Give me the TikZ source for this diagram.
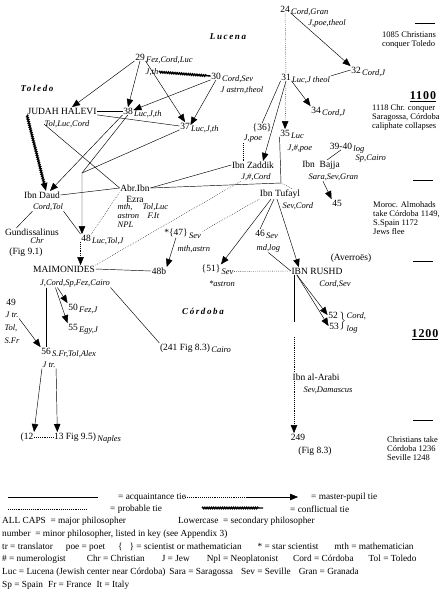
\documentclass[tikz,border=0pt]{standalone}
\usepackage{fontspec}
\setmainfont{Liberation Serif}
\newfontfamily\spacedfont[LetterSpace=18]{Liberation Serif}
\newfontfamily\yearfont[LetterSpace=8]{Liberation Serif}
\usetikzlibrary{arrows.meta,decorations.pathmorphing,positioning}

\tikzset{
  phil/.style={font=\fontsize{9.5}{10}\selectfont, inner sep=0.5pt},
  num/.style={font=\fontsize{9.5}{10}\selectfont, inner sep=0.5pt},
  info/.style={font=\fontsize{8.5}{9}\selectfont\itshape, inner sep=0.5pt},
  note/.style={font=\fontsize{8.5}{9}\selectfont, align=left, anchor=west, inner sep=0pt},
  keytext/.style={font=\fontsize{9.3}{10}\selectfont, anchor=west, inner sep=0pt},
  region/.style={font=\spacedfont\fontsize{9}{10}\selectfont\bfseries\itshape},
  year/.style={font=\yearfont\fontsize{12}{13}\selectfont\bfseries},
  tie/.style={line width=0.45pt},
  prob/.style={line width=0.45pt, dash pattern=on 0.6pt off 1.3pt},
  pupil/.style={line width=0.45pt, -{Triangle[length=8pt,width=6.5pt]}},
  probpupil/.style={pupil, dash pattern=on 0.6pt off 1.3pt},
  conflict/.style={line width=1.4pt, decorate,
    decoration={snake, amplitude=0.7pt, segment length=2.2pt, post length=4pt}},
}

\begin{document}
\begin{tikzpicture}[x=1pt,y=-1pt]
\useasboundingbox (0,0) rectangle (446,591);

%==================== regions ====================
\node[region] (lucena) at (228,37) {Lucena};
\node[region] (toledo) at (37,88) {Toledo};
\node[region] (cordoba) at (203,311) {Córdoba};

%==================== minor philosophers ====================
\foreach \n/\p/\t in {24/{285,9}/{Cord,Gran}, 29/{140,57}/{Fez,Cord,Luc},
  30/{216,76}/{Cord,Sev}, 31/{286,77}/{Luc,J theol}, 32/{356,70}/{Cord,J},
  34/{316,110}/{Cord,J}, 38/{128,111}/{Luc,J,th}, 37/{185,126}/{Luc,J,th},
  35/{285,133}/{Luc}, 39-40/{341,146}/{log}, 46/{260,233}/{Sev},
  48/{86,238}/{Luc,Tol,J}, 50/{73,307}/{Fez,J}, 55/{73,327}/{Egy,J},
  56/{46,351}/{S.Fr,Tol,Alex}}
{
  \node[num] (n\n) at (\p) {\n};
  \node[info, anchor=base west] (i\n) at ([yshift=-2.5pt]n\n.base east) {\t};
}

\node[info] (l24) at (327,23) {J,poe,theol};
\node[info] (l29) at (152,72) {J,th};
\node[info, anchor=west] (l30) at (220,90) {J astrn,theol};
\node[info, anchor=west] (l35) at (287,149) {J,\#,poe};
\node[info, anchor=west] (l39-40) at (355,159) {Sp,Cairo};
\node[info, anchor=west] (l46) at (256,248) {md,log};
\node[info] (l56) at (49,365) {J tr.};

\node[num] (n36) at (262,128) {\{36\}};
\node[info] (l36) at (253,139) {J,poe};
\node[num] (n47) at (176,233) {*\{47\}};
\node[info, anchor=base west] (i47) at ([yshift=-2.5pt]n47.base east) {Sev};
\node[info, anchor=west] (l47) at (177,249) {mth,astrn};
\node[num] (n51) at (211,269) {\{51\}};
\node[info, anchor=base west] (i51) at ([yshift=-2.5pt]n51.base east) {Sev};
\node[info] (l51) at (222,284) {*astron};
\node[num] (n48b) at (159,271) {48b};
\node[num] (n45) at (337,203) {45};

\node[num] (n49) at (11,302) {49};
\node[info] (l49a) at (12,315) {J tr.};
\node[info] (l49b) at (11,328) {Tol,};
\node[info] (l49c) at (12,341) {S.Fr};

\node[num] (n52) at (333,315) {52};
\node[num] (n53) at (334,326) {53};
\node (b5253) at (342,321) {$\left.\rule{0pt}{10pt}\right\}$};
\node[info, anchor=west] (i52) at (346,316) {Cord,};
\node[info, anchor=west] (i53) at (346,329) {log};

%==================== named philosophers ====================
\node[phil] (halevi) at (62,111) {JUDAH HALEVI};
\node[info] (lhalevi) at (67,124) {Tol,Luc,Cord};
\node[phil] (daud) at (42,195) {Ibn Daud};
\node[info] (ldaud) at (48,207) {Cord,Tol};
\node[phil] (gund) at (32,232) {Gundissalinus};
\node[info] (lgund) at (37,241) {Chr};
\node[phil] (fig91) at (26,252) {(Fig 9.1)};

\node[phil] (ezra) at (135,188) {Abr.Ibn};
\node[phil] (lezra) at (135,199) {Ezra};
\node[info, anchor=west] (e1) at (117,207) {mth,};
\node[info, anchor=west] (e2) at (142,207) {Tol,Luc};
\node[info, anchor=west] (e3) at (117,216) {astron};
\node[info, anchor=west] (e4) at (147,216) {F.It};
\node[info, anchor=west] (e5) at (117,225) {NPL};

\node[phil] (zaddik) at (253,165) {Ibn Zaddik};
\node[info] (lzaddik) at (256,177) {J,\#,Cord};
\node[phil] (bajja) at (321,165) {Ibn\ \ Bajja};
\node[info, anchor=west] (lbajja) at (308,177) {Sara,Sev,Gran};
\node[phil] (tufayl) at (280,194) {Ibn Tufayl};
\node[info, anchor=west] (ltufayl) at (282,206) {Sev,Cord};

\node[phil] (averroes) at (351,258) {(Averroës)};
\node[phil] (maim) at (64,269) {MAIMONIDES};
\node[info] (lmaim) at (75,283) {J,Cord,Sp,Fez,Cairo};
\node[phil] (rushd) at (317,271) {IBN RUSHD};
\node[info] (lrushd) at (335,284) {Cord,Sev};

\node[phil] (n241) at (185,348) {(241 Fig 8.3)};
\node[info, anchor=base west] (i241) at ([yshift=-2.5pt]n241.base east) {Cairo};
\node[phil, anchor=west] (arabi) at (292,377) {Ibn al-Arabi};
\node[info, anchor=west] (larabi) at (303,390) {Sev,Damascus};
\node[phil] (n12) at (27,437) {(12};
\node[phil] (n13) at (75,437) {13 Fig 9.5)};
\node[info, anchor=base west] (i13) at ([yshift=-2.5pt]n13.base east) {Naples};
\node[phil] (n249) at (298,437) {249};
\node[phil] (fig83) at (315,451) {(Fig 8.3)};

%==================== time line ====================
\foreach \y in {180,261,420}
  \draw[tie] (413,\y) -- (433,\y);
\draw[tie] (415,23) -- (435,23);
\node[note] (t1085) at (382,40) {1085 Christians\\conquer Toledo};
\node[year] (y1100) at (423,97) {\underline{1100}};
\node[note] (t1118) at (372,117) {1118 Chr. conquer\\Saragossa, Córdoba\\caliphate collapses};
\node[note] (t1149) at (373,218) {Moroc. Almohads\\take Córdoba 1149,\\S.Spain 1172\\Jews flee};
\node[year] (y1200) at (425,335) {\underline{1200}};
\node[note] (t1236) at (387,449) {Christians take\\Córdoba 1236\\Seville 1248};

%==================== acquaintance ties ====================
\draw[tie] (halevi) -- (n38);
\draw[tie] (halevi.south east) -- (n37.west);
\draw[tie] (lhalevi.west) -- (ezra.west);
\draw[tie] (daud.east) -- (ezra.west);
\draw[tie] (ezra.east) -- (zaddik.west);
\coordinate (bend35) at (281,183);
\draw[tie] (n35.south west) -- (bend35) -- (ezra.east);
\draw[tie] (ldaud.south west) -- ([xshift=12pt]gund.north west);
\draw[tie] (ldaud.south east) -- (n48.north west);
\draw[tie] (n31.south west) -- (n36.north);
\draw[tie] (i31.north east) -- (n32.west);
\draw[tie] (n39-40.south) -- ([xshift=6pt]bajja.north);
\draw[tie] ([xshift=-6pt]tufayl.south) -- (n46.north);
\draw[tie] (l46.south) -- (rushd.west);
\draw[tie] (maim.east) -- (n48b.west);
\draw[tie] (lmaim.south -| n56) -- (n56.north);
\draw[tie] (lmaim.south east) -- (n241.north west);

%==================== probable ties ====================
\draw[prob] (n24) -- (n31);
\draw[prob] (l36.south west) -- (l36.south west |- zaddik.north);
\draw[prob] (bend35) -- ([xshift=-8pt]tufayl.north east);
\draw[prob] (n48.north east) -- (ezra.south west);
\draw[prob] (maim.north east) -- (lzaddik.south west);
\draw[prob] (tufayl.south west) -- (i47.north east);
\draw[prob] (i51.east) -- (rushd.west);
\draw[prob] (n12) -- (n13);

%==================== master-pupil ties ====================
\draw[pupil] (n29.south west) -- ([xshift=10pt]halevi.north);
\draw[pupil] (n29.south) -- (n38.north);
\draw[pupil] (n29.south east) -- (n37.north);
\draw[pupil] (n30.south west) -- (i38.north west);
\draw[pupil] (n30.south) -- (i37.north west);
\draw[pupil] (n24.south east) -- (n32.north west);
\draw[pupil] (n31.south east) -- (n34.north west);
\draw[probpupil] (n31.south) -- (n35.north);
\draw[pupil] (n31.south) -- ([xshift=10pt]zaddik.north);
\draw[pupil] (n38.south west) -- ([xshift=8pt]daud.north);
\coordinate (j48) at (82,173);
\draw[pupil] (n38.south) -- (j48) -- (n48.north -| j48);
\draw[tie] (n37.south west) -- (j48);
\draw[probpupil] (n48.south west) -- (n48.south west |- maim.north);
\draw[pupil] ([xshift=15pt]lbajja.south west) -- (n45.north west);
\draw[pupil] ([xshift=-9pt]tufayl.south) -- (n51.north east);
\draw[pupil] ([xshift=-3pt]tufayl.south) -- ([xshift=8pt]rushd.north west);
\draw[pupil] (n47.south) -- (n48b.north east);
\draw[pupil] ([xshift=18pt]lmaim.south west) -- (n50.north west);
\draw[pupil] ([xshift=16pt]lmaim.south west) -- (n55.north west);
\draw[pupil] (l49a.south east) -- (n56.north west);
\draw[pupil] (l56.south west) -- (n12.north east);
\draw[pupil] (l56.south east) -- ([xshift=4pt]n13.north west);
\draw[pupil] ([xshift=6pt]rushd.south west) -- (n52.west);
\draw[pupil] ([xshift=6pt]rushd.south west) -- (n53.west);

% Ibn Rushd - Ibn al-Arabi - 249
\coordinate (rd) at (294,322);
\draw[tie] (rushd.south -| rd) -- (rd);
\draw[prob] ([yshift=-15pt]rd) -- (arabi.north -| rd);
\draw[probpupil] (arabi.south -| rd) -- (n249.north -| rd);

%==================== conflictual ties ====================
\draw[conflict] (l29.east) -- (n30.west);
\draw[conflict, -{Triangle[length=8pt,width=6.5pt]}] (halevi.south west) -- ([xshift=4pt]daud.north);

%==================== legend ====================
\draw[tie] (8,497) -- (98,497);
\node[keytext] (kacq) at (118,497) {= acquaintance tie};
\draw[prob] (185,497) -- (246,497);
\draw[pupil] (246,497) -- (298,497);
\node[keytext] (kpupil) at (311,497) {= master-pupil tie};
\draw[prob] (8,509) -- (87,509);
\node[keytext] (kprob) at (110,509) {= probable tie};
\draw[conflict] (202,508) -- (263,508);
\node[keytext] (kconf) at (290,509) {= conflictual tie};

\node[keytext] (k1) at (2,521) {ALL CAPS\ \ = major philosopher};
\node[keytext] (k2) at (178,521) {Lowercase\ \ = secondary philosopher};
\node[keytext] (k3) at (2,534) {number\ \ = minor philosopher, listed in key (see Appendix 3)};
\node[keytext] (k4) at (2,547) {tr = translator\hspace{13pt}poe = poet\hspace{13pt}\{\hspace{7pt}\} = scientist or mathematician\hspace{16pt}* = star scientist\hspace{16pt}mth = mathematician};
\node[keytext] (k5) at (2,559) {\# = numerologist\hspace{21pt}Chr = Christian\hspace{17pt}J = Jew\hspace{17pt}Npl = Neoplatonist\hspace{15pt}Cord = Córdoba\hspace{15pt}Tol = Toledo};
\node[keytext] (k6) at (2,572) {Luc = Lucena (Jewish center near Córdoba)\hspace{4pt}Sara = Saragossa\hspace{8pt}Sev = Seville\hspace{8pt}Gran = Granada};
\node[keytext] (k7) at (2,585) {Sp = Spain\hspace{5pt}Fr = France\hspace{5pt}It = Italy};

\end{tikzpicture}
\end{document}
